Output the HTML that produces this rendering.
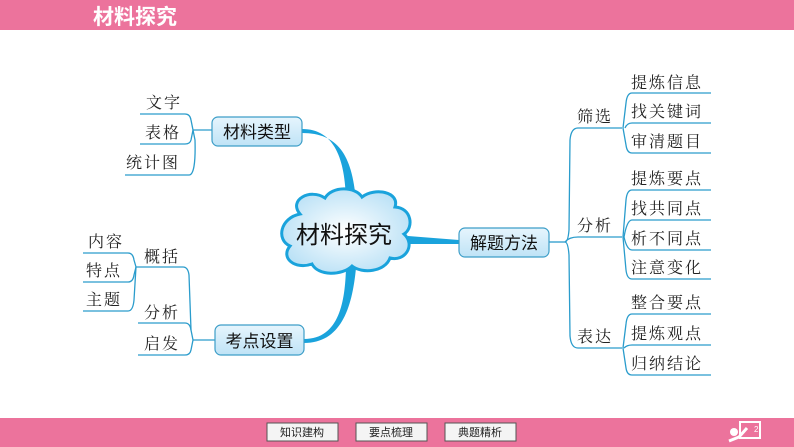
<!DOCTYPE html>
<html><head><meta charset="utf-8"><style>
html,body{margin:0;padding:0;background:#fff;}
svg{display:block;}
.leaf{font-family:"Noto Serif CJK SC","Liberation Serif",serif;font-size:16px;fill:#222;letter-spacing:2px;}
.box{font-family:"Liberation Sans","Noto Sans CJK SC",sans-serif;font-size:17px;fill:#111;}
.btn{font-family:"Liberation Sans","Noto Sans CJK SC",sans-serif;font-size:11px;fill:#222;}
</style></head><body>
<svg width="794" height="447" viewBox="0 0 794 447" xmlns="http://www.w3.org/2000/svg">
<defs>
<linearGradient id="bg" x1="0" y1="0" x2="0" y2="1"><stop offset="0" stop-color="#e6f5fd"/><stop offset="1" stop-color="#bfe3f6"/></linearGradient>
<radialGradient id="cg" cx="0.5" cy="0.5" r="0.6"><stop offset="0" stop-color="#ffffff"/><stop offset="1" stop-color="#b3def5"/></radialGradient>
</defs>
<rect x="0" y="0" width="794" height="30" fill="#ec739c"/>
<text x="93" y="24" font-family="'Liberation Sans','Noto Sans CJK SC',sans-serif" font-size="21" font-weight="bold" fill="#fff">材料探究</text>
<rect x="0" y="418" width="794" height="29" fill="#ec739c"/>
<g stroke="#555" stroke-width="1" fill="#f4f4f4">
<rect x="267" y="423" width="71" height="18"/><rect x="356" y="423" width="71" height="18"/><rect x="445" y="423" width="71" height="18"/>
</g>
<text class="btn" x="302" y="436" text-anchor="middle">知识建构</text>
<text class="btn" x="391" y="436" text-anchor="middle">要点梳理</text>
<text class="btn" x="480" y="436" text-anchor="middle">典题精析</text>
<rect x="740" y="422" width="20" height="16" fill="none" stroke="#fff" stroke-width="2"/>
<circle cx="734" cy="432" r="4" fill="#fff"/><path d="M729 441 L739 437 L747 428" stroke="#fff" stroke-width="3" fill="none"/>
<text x="754" y="432" font-size="8" fill="#fff" font-family="Liberation Sans">2</text>

<g fill="#1aa3dc">
<path d="M302 129 C335 129 345 160 346 200 L356 200 C352 155 338 133 302 133 Z"/>
<path d="M304 339 C340 339 345 300 346 268 L356 268 C352 310 340 343 304 343 Z"/>
<path d="M408 236 L459 240 L459 244 L408 244 Z"/>
</g>

<g stroke="#2a9ccc" stroke-width="1.3" fill="none">
<path d="M140 114 H185 Q190 114 191 120 L193 130 L191 140 Q190 144 185 144 H140"/>
<path d="M193 130 L195 140 Q196 175 189 175 H125"/>
<path d="M193 130 H212"/>
<path d="M83 253 H128 Q133 253 134 260 L136 267 L134 275 Q133 282 128 282 H83"/>
<path d="M136 267 L134 300 Q133 311 128 311 H83"/>
<path d="M136 267 H183 Q188 267 189 275 L191 330 L193 340 L191 350 Q190 355 185 355 H138"/>
<path d="M138 323 H185 Q190 323 191 330"/>
<path d="M193 340 H215"/>
<path d="M549 242 H565"/>
<path d="M565 242 Q568 242 569 230 L570 140 Q571 128 578 128 H622"/>
<path d="M565 242 Q569 237 578 237 H622"/>
<path d="M565 242 Q568 242 569 255 L570 336 Q571 348 578 348 H622"/>
<path d="M711 93 H632 Q627 93 626 103 L623 128 L626 145 Q627 153 632 153 H711"/>
<path d="M711 123 H632 Q627 123 625 128"/>
<path d="M711 190 H632 Q627 190 626 200 L623 237 L626 270 Q627 279 632 279 H711"/>
<path d="M711 220 H632 Q627 220 624 237"/>
<path d="M711 250 H632 Q627 250 624 237"/>
<path d="M711 314 H632 Q627 314 626 324 L623 348 L626 368 Q627 375 632 375 H711"/>
<path d="M711 345 H632 Q627 345 624 348"/>
</g>

<g fill="url(#bg)" stroke="#3d9ec8" stroke-width="1.2">
<rect x="212" y="117" width="90" height="29" rx="6"/>
<rect x="215" y="325" width="89" height="30" rx="6"/>
<rect x="459" y="228" width="90" height="29" rx="6"/>
</g>
<text class="box" x="257" y="138" text-anchor="middle">材料类型</text>
<text class="box" x="259.5" y="347" text-anchor="middle">考点设置</text>
<text class="box" x="504" y="249" text-anchor="middle">解题方法</text>

<path d="M300 214 C288 200 310 188 325 198 C332 186 355 186 362 197 C375 187 400 192 395 207 C412 208 414 228 404 234 C416 245 405 262 390 258 C385 272 362 274 352 266 C342 276 318 276 312 264 C295 270 280 258 290 246 C276 240 280 218 300 214 Z" fill="url(#cg)" stroke="#1aa3dc" stroke-width="3"/>
<text x="344" y="243" text-anchor="middle" font-family="'Liberation Sans','Noto Sans CJK SC',sans-serif" font-size="24" fill="#111">材料探究</text>

<g class="leaf">
<text x="146" y="108">文字</text>
<text x="145" y="138">表格</text>
<text x="126" y="168">统计图</text>
<text x="88" y="247">内容</text>
<text x="86" y="276">特点</text>
<text x="86" y="305">主题</text>
<text x="144" y="262">概括</text>
<text x="144" y="318">分析</text>
<text x="144" y="349">启发</text>
<text x="577" y="122">筛选</text>
<text x="577" y="231">分析</text>
<text x="577" y="342">表达</text>
<text x="631" y="88">提炼信息</text>
<text x="631" y="117">找关键词</text>
<text x="631" y="147">审清题目</text>
<text x="631" y="184">提炼要点</text>
<text x="631" y="214">找共同点</text>
<text x="631" y="244">析不同点</text>
<text x="631" y="273">注意变化</text>
<text x="631" y="308">整合要点</text>
<text x="631" y="339">提炼观点</text>
<text x="631" y="369">归纳结论</text>
</g>
</svg>
</body></html>
